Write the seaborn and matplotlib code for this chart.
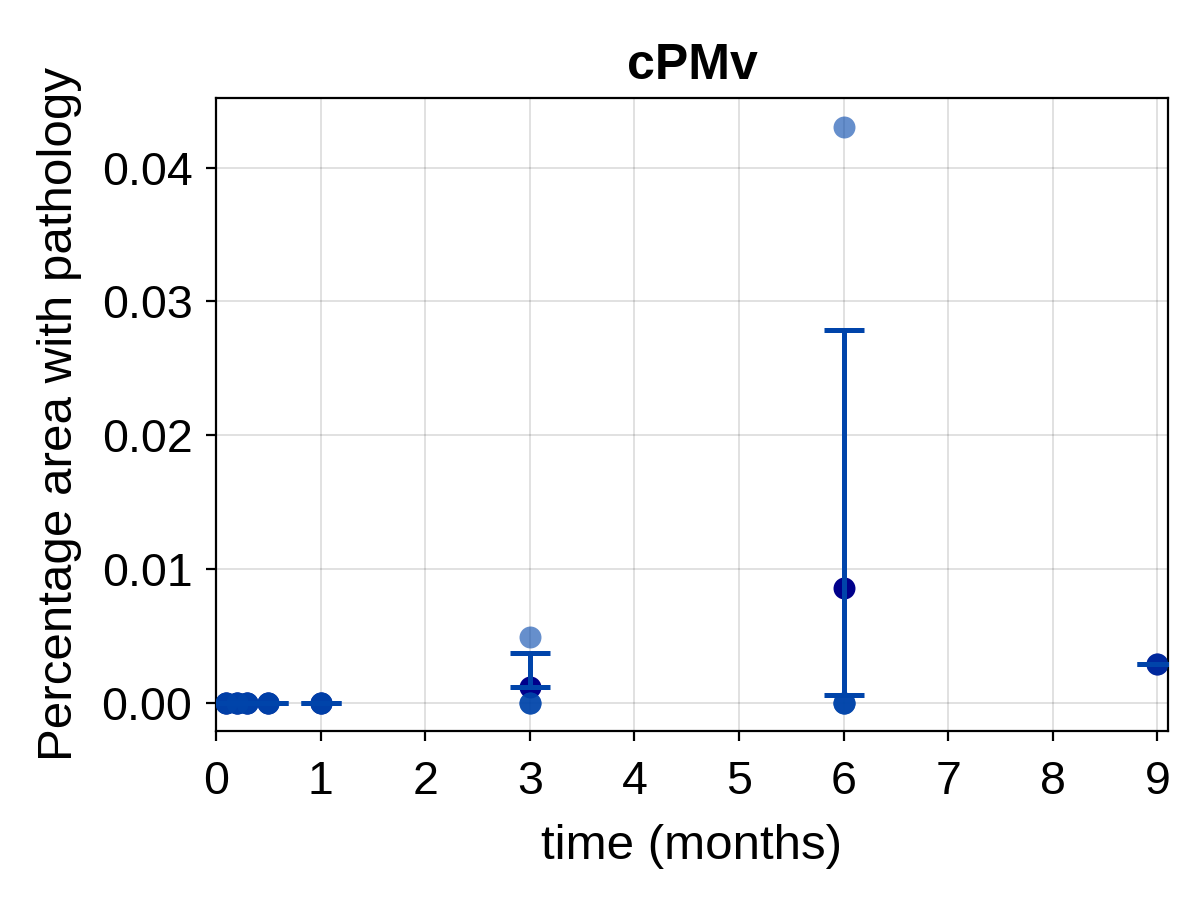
import numpy as np
import pandas as pd
import seaborn as sns
import matplotlib.pyplot as plt

# raw observations per time point (months)
time_pts = [0.1, 0.1, 0.1, 0.2, 0.2, 0.2, 0.3, 0.3, 0.3, 0.5, 0.5, 0.5,
            1, 1, 1, 3, 3, 3, 3, 6, 6, 6, 6, 6, 9]
area_vals = [0, 0, 0, 0, 0, 0, 0, 0, 0, 0, 0, 0,
             0, 0, 0, 0.0049, 0, 0, 0, 0.043, 0, 0, 0, 0, 0.0029]

# summary per time point
mean_time = [0.1, 0.2, 0.3, 0.5, 1, 3, 6, 9]
mean_vals = [0, 0, 0, 0, 0, 0.0012, 0.0086, 0.0029]
err_low = [0, 0, 0, 0, 0, 0.0012, 0.0006, 0.0029]
err_high = [0, 0, 0, 0, 0, 0.0037, 0.0279, 0.0029]

raw = pd.DataFrame({"time": time_pts, "area": area_vals})
summ = pd.DataFrame({"time": mean_time, "mean": mean_vals,
                     "lo": err_low, "hi": err_high})

sns.set_theme(style="ticks")
plt.rcParams["font.family"] = ["Liberation Sans", "DejaVu Sans"]
plt.rcParams["text.color"] = "black"
plt.rcParams["axes.labelcolor"] = "black"
plt.rcParams["xtick.color"] = "black"
plt.rcParams["ytick.color"] = "black"

fig, ax = plt.subplots(figsize=(12, 9), dpi=100)
fig.subplots_adjust(left=0.18, right=0.9733, top=0.8911, bottom=0.1878)

blue = "#0044AA"

sns.scatterplot(data=summ, x="time", y="mean", color="#00008B", s=250,
                linewidth=0, ax=ax, zorder=2)
ax.errorbar(summ["time"], summ["lo"],
            yerr=[np.zeros(len(summ)), summ["hi"] - summ["lo"]],
            fmt="none", ecolor=blue, elinewidth=3.6, capsize=14.4,
            capthick=3.6, zorder=3)
sns.scatterplot(data=raw, x="time", y="area", color=blue, alpha=0.6,
                s=250, linewidth=0, ax=ax, zorder=4)

ax.set_xlim(0, 9.1)
ax.set_ylim(-0.0021, 0.0452)
ax.set_xticks(range(10))
ax.set_yticks([0, 0.01, 0.02, 0.03, 0.04])
ax.set_yticklabels(["0.00", "0.01", "0.02", "0.03", "0.04"])
ax.grid(True, color="black", alpha=0.12, linewidth=1.4)
for sp in ax.spines.values():
    sp.set_linewidth(1.6)
    sp.set_color("black")
ax.tick_params(axis="both", labelsize=33.5, width=1.6, length=7,
               color="black", labelcolor="black")
ax.tick_params(axis="x", pad=14)
ax.tick_params(axis="y", pad=10)
ax.set_xlabel("time (months)", fontsize=35.5, labelpad=14, color="black")
ax.set_ylabel("Percentage area with pathology", fontsize=35.5, labelpad=14,
              color="black")
ax.set_title("cPMv", fontsize=36, fontweight="bold", pad=14, color="black")

fig.savefig("out.png", dpi=100)
